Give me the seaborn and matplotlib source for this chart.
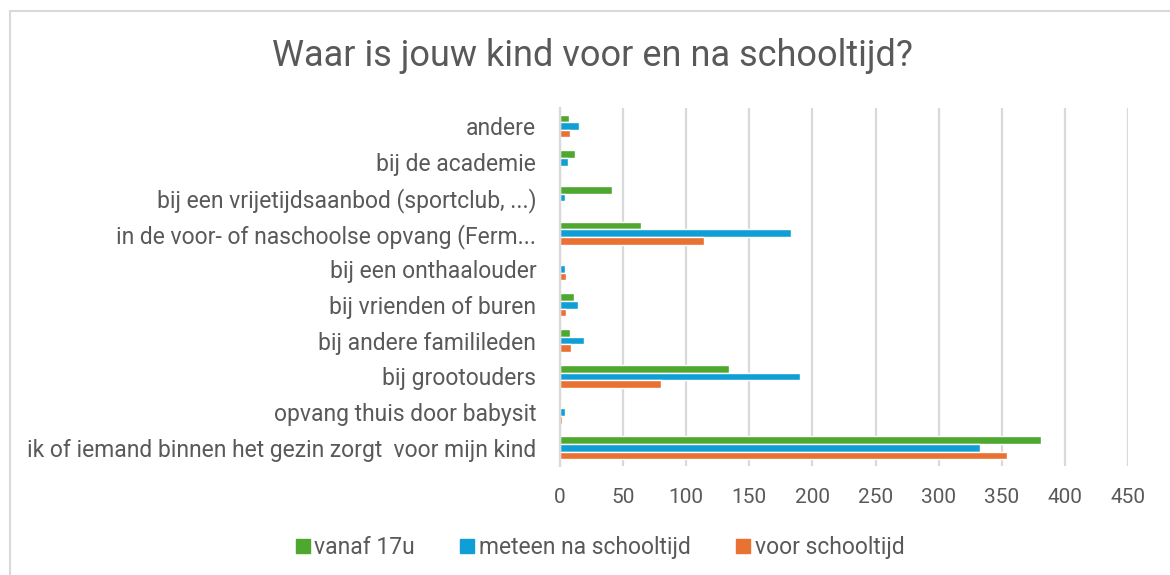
import matplotlib
matplotlib.use("Agg")
import matplotlib.pyplot as plt
from matplotlib.lines import Line2D
import seaborn as sns
import pandas as pd

categories = [
    "andere",
    "bij de academie",
    "bij een vrijetijdsaanbod (sportclub, ...)",
    "in de voor- of naschoolse opvang (Ferm...",
    "bij een onthaalouder",
    "bij vrienden of buren",
    "bij andere familileden",
    "bij grootouders",
    "opvang thuis door babysit",
    "ik of iemand binnen het gezin zorgt  voor mijn kind",
]
series = ["vanaf 17u", "meteen na schooltijd", "voor schooltijd"]
vanaf_17u = [7, 12, 41, 64, 0, 11, 8, 134, 1, 381]
meteen_na = [15, 6, 4, 183, 4, 14, 19, 190, 4, 333]
voor_school = [8, 0, 0, 114, 5, 5, 9, 80, 2, 354]
xticks = [0, 50, 100, 150, 200, 250, 300, 350, 400, 450]
colors = ["#4EA72E", "#0F9ED5", "#E97132"]

rows = []
for vals, s in zip([vanaf_17u, meteen_na, voor_school], series):
    for c, v in zip(categories, vals):
        rows.append({"cat": c, "series": s, "value": v})
df = pd.DataFrame(rows)

sns.set_theme(style="white")
plt.rcParams["font.family"] = ["Roboto", "DejaVu Sans"]
txt = "#595959"

fig = plt.figure(figsize=(11.7, 5.75), dpi=100)
ax = fig.add_axes([0.4786, 0.190, 0.4855, 0.622])
sns.barplot(data=df, y="cat", x="value", hue="series", order=categories,
            hue_order=series, palette=colors, orient="h", width=0.64,
            ax=ax, saturation=1, legend=False)

ax.set_xlim(0, 450)
ax.set_xticks(xticks)
ax.set_xticklabels([str(t) for t in xticks], fontsize=15, color=txt)
ax.tick_params(axis="x", pad=16, length=0)
ax.tick_params(axis="y", length=0, pad=17, labelsize=16.5, labelcolor=txt)
ax.set_xlabel("")
ax.set_ylabel("")
ax.xaxis.grid(True, color="#D9D9D9", linewidth=1.6)
ax.set_axisbelow(True)
for sp in ["top", "right", "bottom"]:
    ax.spines[sp].set_visible(False)
ax.spines["left"].set_color("#D9D9D9")
ax.spines["left"].set_linewidth(1.6)

fig.text(0.506, 0.902, "Waar is jouw kind voor en na schooltijd?",
         ha="center", va="center", fontsize=26, color=txt)

handles = [Line2D([0], [0], marker="s", linestyle="", markersize=10.5,
                  markerfacecolor=c, markeredgecolor=c) for c in colors]
fig.legend(handles, series, loc="center", bbox_to_anchor=(0.512, 0.047),
           ncol=3, frameon=False, fontsize=16.5, labelcolor=txt,
           handletextpad=0.1, columnspacing=1.9, handlelength=0.8)

# outer frame (left and top edges)
fig.add_artist(Line2D([10/1170, 10/1170], [0, 1-11/575], transform=fig.transFigure,
                      color="#D9D9D9", linewidth=1.5))
fig.add_artist(Line2D([10/1170, 1], [1-11/575, 1-11/575], transform=fig.transFigure,
                      color="#D9D9D9", linewidth=1.5))

fig.savefig("out.png", dpi=100, facecolor="white")
